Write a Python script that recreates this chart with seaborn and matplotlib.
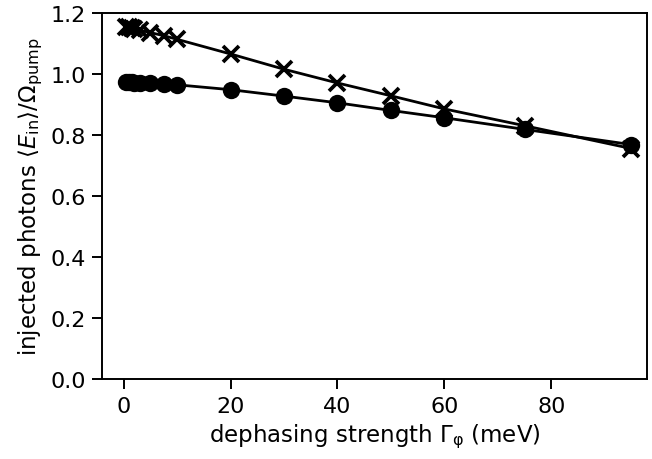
import seaborn as sns
import matplotlib.pyplot as plt
import pandas as pd

# dephasing strength (meV)
gamma = [0.5, 1, 1.5, 2, 3, 5, 7.5, 10, 20, 30, 40, 50, 60, 75, 95]
# injected photons, two models
circles = [0.972, 0.972, 0.972, 0.971, 0.970, 0.969, 0.967, 0.964,
           0.948, 0.927, 0.905, 0.880, 0.856, 0.818, 0.768]
crosses = [1.155, 1.152, 1.150, 1.147, 1.143, 1.135, 1.125, 1.113,
           1.065, 1.015, 0.970, 0.928, 0.885, 0.830, 0.755]

df = pd.DataFrame({'gamma': gamma, 'circles': circles, 'crosses': crosses})

sns.set_style('ticks', {'text.color': 'black', 'axes.labelcolor': 'black',
                        'xtick.color': 'black', 'ytick.color': 'black',
                        'axes.edgecolor': 'black'})
fs = 16.5

fig, ax = plt.subplots(figsize=(6.52, 4.6), dpi=100)
sns.lineplot(x='gamma', y='circles', data=df, ax=ax, color='black',
             marker='o', markersize=12.5, markeredgewidth=0, linewidth=2)
sns.lineplot(x='gamma', y='crosses', data=df, ax=ax, color='black',
             marker='x', markersize=11, markeredgewidth=2.7,
             markeredgecolor='black', linewidth=2)

ax.set_ylim(0, 1.2)
ax.set_xlim(-4, 98)
ax.set_xticks([0, 20, 40, 60, 80])
ax.set_yticks([0.0, 0.2, 0.4, 0.6, 0.8, 1.0, 1.2])
ax.tick_params(labelsize=16, width=1.4, length=7, pad=5)
for s in ax.spines.values():
    s.set_linewidth(1.4)
ax.set_xlabel(r'dephasing strength $\Gamma_{\mathrm{\varphi}}$ (meV)', fontsize=fs)
ax.set_ylabel(r'injected photons $\langle E_{\mathrm{in}}\rangle/\Omega_{\mathrm{pump}}$',
              fontsize=fs)

fig.subplots_adjust(left=0.157, right=0.993, top=0.97, bottom=0.174)
fig.savefig('out.png', dpi=100)
